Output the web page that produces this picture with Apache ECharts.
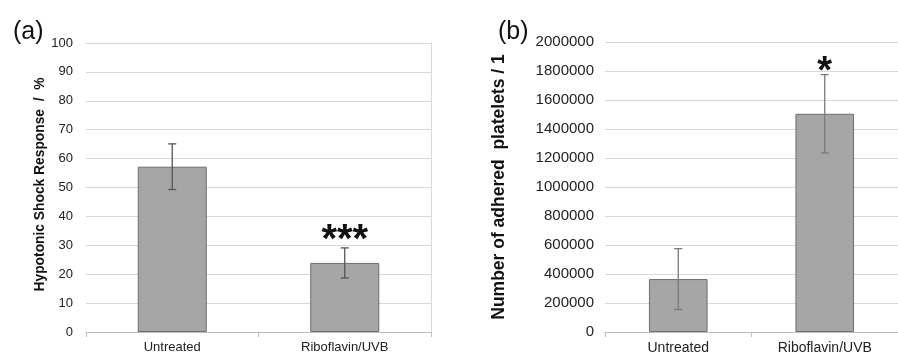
<!DOCTYPE html>
<html>
<head>
<meta charset="utf-8">
<script src="https://cdn.jsdelivr.net/npm/echarts@6/dist/echarts.min.js"></script>
<style>html,body{margin:0;padding:0;background:#fff;}#c{width:898px;height:356px;}</style>
</head>
<body>
<div id="c"></div>
<script>
const categories = ['Untreated', 'Riboflavin/UVB'];
const hsrMean = [57.2, 23.9];
const hsrErr = [7.9, 5.2];
const hsrStars = ['', '***'];
const plateletMean = [365000, 1505000];
const plateletErr = [210000, 270000];
const plateletStars = ['', '*'];
const hsrTicks = [0, 100, 10];
const plateletTicks = [0, 2000000, 200000];

const FONT = '"Liberation Sans", Arial, sans-serif';
const chart = echarts.init(document.getElementById('c'), null, {renderer: 'canvas'});

function errItem(means, errs, color) {
  return function (params, api) {
    const i = api.value(0);
    const m = means[i], e = errs[i];
    const top = api.coord([i, m + e]);
    const bot = api.coord([i, m - e]);
    const cap = 4;
    const st = {stroke: color, lineWidth: 1.3};
    return {type: 'group', children: [
      {type: 'line', shape: {x1: top[0], y1: top[1], x2: bot[0], y2: bot[1]}, style: st},
      {type: 'line', shape: {x1: top[0] - cap, y1: top[1], x2: top[0] + cap, y2: top[1]}, style: st},
      {type: 'line', shape: {x1: bot[0] - cap, y1: bot[1], x2: bot[0] + cap, y2: bot[1]}, style: st}
    ]};
  };
}
function starItem(means, errs, stars, size, dy) {
  return function (params, api) {
    const i = api.value(0);
    const p = api.coord([i, means[i] + errs[i]]);
    return {type: 'text', x: p[0], y: p[1] + dy, style: {
      text: stars[i], fill: '#111', font: 'bold ' + size + 'px ' + FONT,
      align: 'center', verticalAlign: 'bottom'}};
  };
}

const barStyle = {color: '#a6a6a6', borderColor: '#6e6e6e', borderWidth: 1};
const gridLine = {lineStyle: {color: '#d9d9d9', width: 1}};

chart.setOption({
  animation: false,
  backgroundColor: '#fff',
  title: [
    {text: '(a)', left: 8, top: 15, textStyle: {fontFamily: FONT, fontSize: 25, fontWeight: 'normal', color: '#111'}},
    {text: '(b)', left: 493, top: 15, textStyle: {fontFamily: FONT, fontSize: 25, fontWeight: 'normal', color: '#111'}}
  ],
  grid: [
    {left: 86, top: 43, width: 345, height: 289},
    {left: 605, top: 42, width: 300, height: 290}
  ],
  xAxis: [
    {type: 'category', gridIndex: 0, data: categories,
     axisLine: {lineStyle: {color: '#bfbfbf'}},
     axisTick: {show: true, length: 5, lineStyle: {color: '#bfbfbf'}},
     axisLabel: {color: '#222', fontFamily: FONT, fontSize: 13, margin: 9}},
    {type: 'category', gridIndex: 1, data: categories,
     axisLine: {lineStyle: {color: '#bfbfbf'}},
     axisTick: {show: true, length: 5, lineStyle: {color: '#bfbfbf'}},
     axisLabel: {color: '#222', fontFamily: FONT, fontSize: 14, margin: 9}}
  ],
  yAxis: [
    {type: 'value', gridIndex: 0, min: hsrTicks[0], max: hsrTicks[1], interval: hsrTicks[2],
     name: 'Hypotonic Shock Response  /  %', nameLocation: 'middle', nameGap: 38,
     nameTextStyle: {fontFamily: FONT, fontSize: 13.8, fontWeight: 'bold', color: '#111', padding: [0, 0, 0, 6]},
     axisLine: {show: false}, axisTick: {show: false}, splitLine: gridLine,
     axisLabel: {color: '#222', fontFamily: FONT, fontSize: 13, margin: 13}},
    {type: 'value', gridIndex: 1, min: plateletTicks[0], max: plateletTicks[1], interval: plateletTicks[2],
     name: 'Number of adhered  platelets / 1', nameLocation: 'middle', nameGap: 97,
     nameTextStyle: {fontFamily: FONT, fontSize: 17.5, fontWeight: 'bold', color: '#111'},
     axisLine: {show: false}, axisTick: {show: false}, splitLine: gridLine,
     axisLabel: {color: '#222', fontFamily: FONT, fontSize: 15, margin: 11,
                 formatter: v => String(v)}},
    {type: 'value', gridIndex: 0, position: 'right', min: hsrTicks[0], max: hsrTicks[1],
     axisLine: {show: true, lineStyle: {color: '#d9d9d9'}}, axisTick: {show: false},
     axisLabel: {show: false}, splitLine: {show: false}}
  ],
  series: [
    {type: 'bar', xAxisIndex: 0, yAxisIndex: 0, data: hsrMean, barWidth: '40%', itemStyle: barStyle},
    {type: 'custom', xAxisIndex: 0, yAxisIndex: 0, data: categories.map((c, i) => [i]),
     renderItem: errItem(hsrMean, hsrErr, '#555'), z: 5},
    {type: 'custom', xAxisIndex: 0, yAxisIndex: 0, data: categories.map((c, i) => [i]),
     renderItem: starItem(hsrMean, hsrErr, hsrStars, 40, 13), z: 6},
    {type: 'bar', xAxisIndex: 1, yAxisIndex: 1, data: plateletMean, barWidth: '40%', itemStyle: barStyle},
    {type: 'custom', xAxisIndex: 1, yAxisIndex: 1, data: categories.map((c, i) => [i]),
     renderItem: errItem(plateletMean, plateletErr, '#7a7a7a'), z: 5},
    {type: 'custom', xAxisIndex: 1, yAxisIndex: 1, data: categories.map((c, i) => [i]),
     renderItem: starItem(plateletMean, plateletErr, plateletStars, 38, 17), z: 6}
  ]
});
</script>
</body>
</html>
